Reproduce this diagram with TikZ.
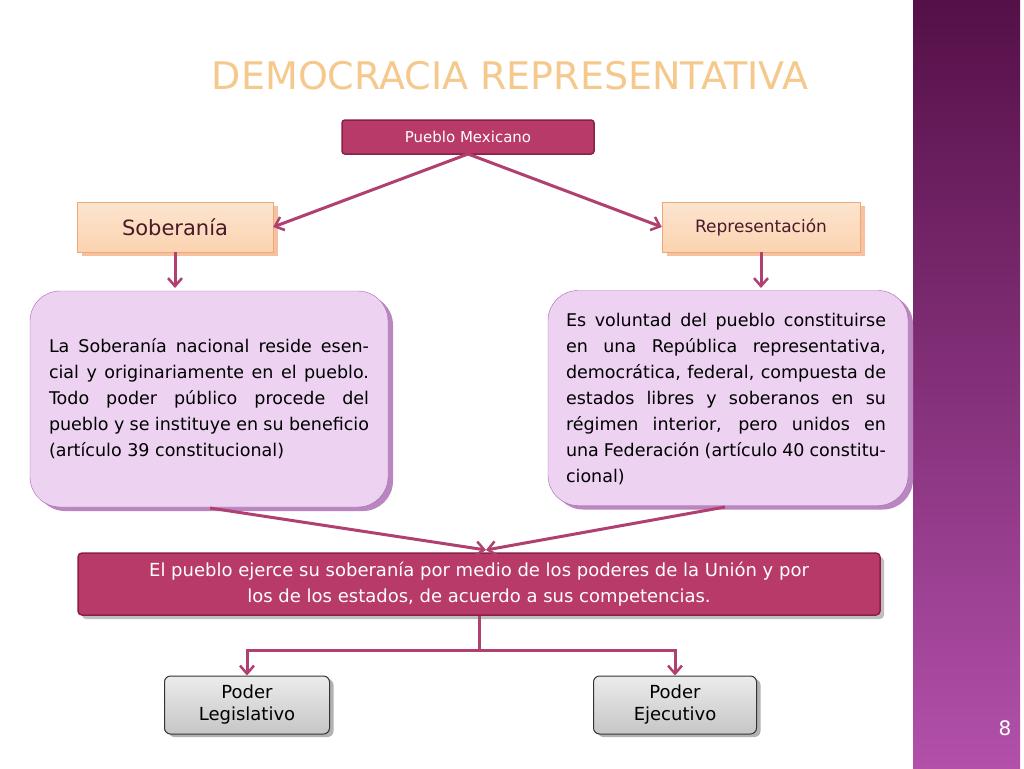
\documentclass[tikz,border=0pt]{standalone}
\usepackage{fontspec}
\setmainfont{DejaVu Sans}
\usetikzlibrary{arrows.meta,shadows}
\definecolor{mag}{HTML}{B83A68}
\definecolor{magd}{HTML}{8A2048}
\definecolor{arr}{HTML}{B04070}
\definecolor{peach}{HTML}{FBD3B0}
\definecolor{peachb}{HTML}{F0A878}
\definecolor{lav}{HTML}{EDD2F2}
\definecolor{lavb}{HTML}{A868B0}
\definecolor{darkt}{HTML}{4A1A2A}
\definecolor{bandtop}{HTML}{551048}
\definecolor{bandbot}{HTML}{B250AA}
\definecolor{titlec}{HTML}{F5C88C}
\tikzset{
 x=1pt,y=-1pt,
 con/.style={draw=arr,line width=3pt,-{Straight Barb[length=8pt,width=14pt,line width=2.5pt]}},
 magbox/.style={draw=magd,line width=1.5pt,fill=mag,text=white,rounded corners=3pt,minimum height=34pt,font=\fontsize{15}{18}\selectfont},
 peachbox/.style={draw=peachb,top color=peach!60!white,bottom color=peach,text=darkt,minimum height=50pt,
   drop shadow={shadow xshift=5pt,shadow yshift=-4pt,fill=peachb!70,opacity=1}},
 bigbox/.style={draw=lavb,fill=lav,rounded corners=30pt,minimum width=358pt,minimum height=216pt,
   drop shadow={shadow xshift=5pt,shadow yshift=-4pt,fill=lavb!80,opacity=1}},
 graybox/.style={draw=black!80,line width=1pt,top color=gray!15,bottom color=gray!45,rounded corners=6pt,
   minimum width=165pt,minimum height=58pt,align=center,font=\fontsize{18}{22}\selectfont,
   drop shadow={shadow xshift=4pt,shadow yshift=-3pt,fill=gray!60,opacity=1}},
 btxt/.style={text width=320pt,align=justify,font=\fontsize{17.5}{26}\selectfont}
}
\begin{document}
\begin{tikzpicture}
\useasboundingbox (0,0) rectangle (1024,768);
\fill[white] (0,0) rectangle (1024,768);
\shade[top color=bandtop,bottom color=bandbot] (913,0) rectangle (1020,768);
\node[text=titlec,font=\fontsize{38}{40}\selectfont] (title) at (510,76) {DEMOCRACIA REPRESENTATIVA};
\node[magbox,minimum width=252pt] (pm) at (468,137) {Pueblo Mexicano};
\node[peachbox,minimum width=196pt,font=\fontsize{21}{24}\selectfont] (sob) at (175,227) {Soberanía};
\node[peachbox,minimum width=198pt,font=\fontsize{17}{20}\selectfont] (rep) at (761,227) {Representación};
\node[bigbox] (lb) at (209,399) {};
\node[btxt] (lt) at (209,399) {La Soberanía nacional reside esencial y originariamente en el pueblo. Todo poder público procede del pueblo y se instituye en su beneficio (artículo 39 constitucional)};
\node[bigbox,minimum width=360pt,minimum height=215pt] (rb) at (728,398) {};
\node[btxt] (rt) at (726,399) {Es voluntad del pueblo constituirse en una República representativa, democrática, federal, compuesta de estados libres y soberanos en su régimen interior, pero unidos en una Federación (artículo 40 constitucional)};
\node[magbox,minimum width=802pt,minimum height=62pt,rounded corners=4pt,align=center,font=\fontsize{18}{26}\selectfont,
  drop shadow={shadow xshift=4pt,shadow yshift=-4pt,fill=gray!50,opacity=1}] (ban) at (479,584)
  {El pueblo ejerce su soberanía por medio de los poderes de la Unión y por\\los de los estados, de acuerdo a sus competencias.};
\node[graybox] (leg) at (247,705) {Poder\\Legislativo};
\node[graybox,minimum width=163pt] (eje) at (675,705) {Poder\\Ejecutivo};
\node[text=white,font=\fontsize{20}{22}\selectfont] (pg) at (1005,728) {8};
\coordinate (top) at (468,154);
\draw[con] (top) -- (sob.east);
\draw[con] (top) -- (rep.west);
\draw[con] (sob.south) -- (175,288);
\draw[con] (rep.south) -- (761,288);
\coordinate (lbo) at (210,508);
\coordinate (rbo) at (725,507);
\coordinate (meet) at (486,550);
\draw[con] (lbo) -- (meet);
\draw[con] (rbo) -- (meet);
\coordinate (mid) at (479,650);
\draw[draw=arr,line width=3pt] (ban.south) -- (mid);
\draw[con] (mid) -| (leg.north);
\draw[con] (mid) -| (eje.north);
\end{tikzpicture}
\end{document}
